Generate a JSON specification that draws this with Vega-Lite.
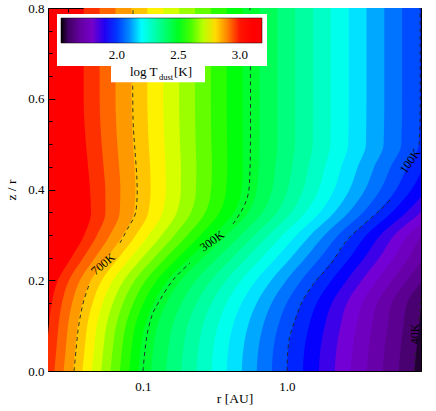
{
"$schema": "https://vega.github.io/schema/vega-lite/v6.json",
"width": 373, "height": 363,
"autosize": {"type": "none"},
"padding": {"left": 48, "top": 8, "right": 15, "bottom": 40},
"background": "white",
"config": {
 "view": {"stroke": null, "fill": "#ff0000"},
 "font": "Liberation Serif",
 "axis": {"grid": false, "domainColor": "black", "domainWidth": 1, "tickColor": "black", "tickWidth": 1, "labelColor": "black", "titleColor": "black", "labelFont": "Liberation Serif", "titleFont": "Liberation Serif", "labelFontSize": 13, "titleFontSize": 13.5, "titleFontWeight": "normal", "labelOverlap": false, "labelFlush": false}
},
"layer": [
{
 "data": {"values": [
{"t":2.975,"z":0,"log_r":-1.681},{"t":2.975,"z":0.05,"log_r":-1.666},{"t":2.975,"z":0.1,"log_r":-1.654},{"t":2.975,"z":0.15,"log_r":-1.633},{"t":2.975,"z":0.2,"log_r":-1.591},{"t":2.975,"z":0.25,"log_r":-1.497},{"t":2.975,"z":0.3,"log_r":-1.408},{"t":2.975,"z":0.35,"log_r":-1.361},{"t":2.975,"z":0.4,"log_r":-1.368},{"t":2.975,"z":0.45,"log_r":-1.381},{"t":2.975,"z":0.5,"log_r":-1.396},{"t":2.975,"z":0.6,"log_r":-1.412},{"t":2.975,"z":0.8,"log_r":-1.412},
{"t":2.925,"z":0,"log_r":-1.616},{"t":2.925,"z":0.05,"log_r":-1.601},{"t":2.925,"z":0.1,"log_r":-1.587},{"t":2.925,"z":0.15,"log_r":-1.563},{"t":2.925,"z":0.2,"log_r":-1.514},{"t":2.925,"z":0.25,"log_r":-1.414},{"t":2.925,"z":0.3,"log_r":-1.319},{"t":2.925,"z":0.35,"log_r":-1.261},{"t":2.925,"z":0.4,"log_r":-1.262},{"t":2.925,"z":0.45,"log_r":-1.274},{"t":2.925,"z":0.5,"log_r":-1.287},{"t":2.925,"z":0.6,"log_r":-1.301},{"t":2.925,"z":0.8,"log_r":-1.301},
{"t":2.875,"z":0,"log_r":-1.551},{"t":2.875,"z":0.05,"log_r":-1.536},{"t":2.875,"z":0.1,"log_r":-1.521},{"t":2.875,"z":0.15,"log_r":-1.492},{"t":2.875,"z":0.2,"log_r":-1.438},{"t":2.875,"z":0.25,"log_r":-1.332},{"t":2.875,"z":0.3,"log_r":-1.229},{"t":2.875,"z":0.35,"log_r":-1.162},{"t":2.875,"z":0.4,"log_r":-1.157},{"t":2.875,"z":0.45,"log_r":-1.166},{"t":2.875,"z":0.5,"log_r":-1.178},{"t":2.875,"z":0.6,"log_r":-1.191},{"t":2.875,"z":0.8,"log_r":-1.191},
{"t":2.825,"z":0,"log_r":-1.486},{"t":2.825,"z":0.05,"log_r":-1.470},{"t":2.825,"z":0.1,"log_r":-1.454},{"t":2.825,"z":0.15,"log_r":-1.421},{"t":2.825,"z":0.2,"log_r":-1.362},{"t":2.825,"z":0.25,"log_r":-1.250},{"t":2.825,"z":0.3,"log_r":-1.139},{"t":2.825,"z":0.35,"log_r":-1.063},{"t":2.825,"z":0.4,"log_r":-1.052},{"t":2.825,"z":0.45,"log_r":-1.059},{"t":2.825,"z":0.5,"log_r":-1.069},{"t":2.825,"z":0.6,"log_r":-1.080},{"t":2.825,"z":0.8,"log_r":-1.080},
{"t":2.775,"z":0,"log_r":-1.421},{"t":2.775,"z":0.05,"log_r":-1.405},{"t":2.775,"z":0.1,"log_r":-1.387},{"t":2.775,"z":0.15,"log_r":-1.350},{"t":2.775,"z":0.2,"log_r":-1.286},{"t":2.775,"z":0.25,"log_r":-1.168},{"t":2.775,"z":0.3,"log_r":-1.049},{"t":2.775,"z":0.35,"log_r":-0.963},{"t":2.775,"z":0.4,"log_r":-0.947},{"t":2.775,"z":0.45,"log_r":-0.951},{"t":2.775,"z":0.5,"log_r":-0.960},{"t":2.775,"z":0.6,"log_r":-0.970},{"t":2.775,"z":0.8,"log_r":-0.970},
{"t":2.725,"z":0,"log_r":-1.356},{"t":2.725,"z":0.05,"log_r":-1.340},{"t":2.725,"z":0.1,"log_r":-1.321},{"t":2.725,"z":0.15,"log_r":-1.280},{"t":2.725,"z":0.2,"log_r":-1.209},{"t":2.725,"z":0.25,"log_r":-1.085},{"t":2.725,"z":0.3,"log_r":-0.959},{"t":2.725,"z":0.35,"log_r":-0.864},{"t":2.725,"z":0.4,"log_r":-0.842},{"t":2.725,"z":0.45,"log_r":-0.844},{"t":2.725,"z":0.5,"log_r":-0.851},{"t":2.725,"z":0.6,"log_r":-0.860},{"t":2.725,"z":0.8,"log_r":-0.860},
{"t":2.675,"z":0,"log_r":-1.290},{"t":2.675,"z":0.05,"log_r":-1.275},{"t":2.675,"z":0.1,"log_r":-1.254},{"t":2.675,"z":0.15,"log_r":-1.209},{"t":2.675,"z":0.2,"log_r":-1.133},{"t":2.675,"z":0.25,"log_r":-1.003},{"t":2.675,"z":0.3,"log_r":-0.869},{"t":2.675,"z":0.35,"log_r":-0.765},{"t":2.675,"z":0.4,"log_r":-0.737},{"t":2.675,"z":0.45,"log_r":-0.736},{"t":2.675,"z":0.5,"log_r":-0.743},{"t":2.675,"z":0.6,"log_r":-0.749},{"t":2.675,"z":0.8,"log_r":-0.749},
{"t":2.625,"z":0,"log_r":-1.225},{"t":2.625,"z":0.05,"log_r":-1.210},{"t":2.625,"z":0.1,"log_r":-1.187},{"t":2.625,"z":0.15,"log_r":-1.138},{"t":2.625,"z":0.2,"log_r":-1.057},{"t":2.625,"z":0.25,"log_r":-0.921},{"t":2.625,"z":0.3,"log_r":-0.780},{"t":2.625,"z":0.35,"log_r":-0.666},{"t":2.625,"z":0.4,"log_r":-0.632},{"t":2.625,"z":0.45,"log_r":-0.629},{"t":2.625,"z":0.5,"log_r":-0.634},{"t":2.625,"z":0.6,"log_r":-0.639},{"t":2.625,"z":0.8,"log_r":-0.639},
{"t":2.575,"z":0,"log_r":-1.160},{"t":2.575,"z":0.05,"log_r":-1.145},{"t":2.575,"z":0.1,"log_r":-1.120},{"t":2.575,"z":0.15,"log_r":-1.067},{"t":2.575,"z":0.2,"log_r":-0.981},{"t":2.575,"z":0.25,"log_r":-0.839},{"t":2.575,"z":0.3,"log_r":-0.690},{"t":2.575,"z":0.35,"log_r":-0.566},{"t":2.575,"z":0.4,"log_r":-0.527},{"t":2.575,"z":0.45,"log_r":-0.521},{"t":2.575,"z":0.5,"log_r":-0.525},{"t":2.575,"z":0.6,"log_r":-0.529},{"t":2.575,"z":0.8,"log_r":-0.529},
{"t":2.525,"z":0,"log_r":-1.095},{"t":2.525,"z":0.05,"log_r":-1.080},{"t":2.525,"z":0.1,"log_r":-1.054},{"t":2.525,"z":0.15,"log_r":-0.996},{"t":2.525,"z":0.2,"log_r":-0.904},{"t":2.525,"z":0.25,"log_r":-0.756},{"t":2.525,"z":0.3,"log_r":-0.600},{"t":2.525,"z":0.35,"log_r":-0.467},{"t":2.525,"z":0.4,"log_r":-0.422},{"t":2.525,"z":0.45,"log_r":-0.414},{"t":2.525,"z":0.5,"log_r":-0.416},{"t":2.525,"z":0.6,"log_r":-0.418},{"t":2.525,"z":0.8,"log_r":-0.418},
{"t":2.475,"z":0,"log_r":-1.030},{"t":2.475,"z":0.05,"log_r":-1.015},{"t":2.475,"z":0.1,"log_r":-0.987},{"t":2.475,"z":0.15,"log_r":-0.926},{"t":2.475,"z":0.2,"log_r":-0.828},{"t":2.475,"z":0.25,"log_r":-0.674},{"t":2.475,"z":0.3,"log_r":-0.510},{"t":2.475,"z":0.35,"log_r":-0.368},{"t":2.475,"z":0.4,"log_r":-0.316},{"t":2.475,"z":0.45,"log_r":-0.306},{"t":2.475,"z":0.5,"log_r":-0.307},{"t":2.475,"z":0.6,"log_r":-0.308},{"t":2.475,"z":0.8,"log_r":-0.308},
{"t":2.425,"z":0,"log_r":-0.943},{"t":2.425,"z":0.05,"log_r":-0.928},{"t":2.425,"z":0.1,"log_r":-0.900},{"t":2.425,"z":0.15,"log_r":-0.837},{"t":2.425,"z":0.2,"log_r":-0.737},{"t":2.425,"z":0.25,"log_r":-0.581},{"t":2.425,"z":0.3,"log_r":-0.417},{"t":2.425,"z":0.35,"log_r":-0.268},{"t":2.425,"z":0.4,"log_r":-0.210},{"t":2.425,"z":0.45,"log_r":-0.195},{"t":2.425,"z":0.5,"log_r":-0.191},{"t":2.425,"z":0.6,"log_r":-0.190},{"t":2.425,"z":0.8,"log_r":-0.190},
{"t":2.375,"z":0,"log_r":-0.839},{"t":2.375,"z":0.05,"log_r":-0.824},{"t":2.375,"z":0.1,"log_r":-0.795},{"t":2.375,"z":0.15,"log_r":-0.732},{"t":2.375,"z":0.2,"log_r":-0.632},{"t":2.375,"z":0.25,"log_r":-0.480},{"t":2.375,"z":0.3,"log_r":-0.320},{"t":2.375,"z":0.35,"log_r":-0.169},{"t":2.375,"z":0.4,"log_r":-0.103},{"t":2.375,"z":0.45,"log_r":-0.081},{"t":2.375,"z":0.5,"log_r":-0.067},{"t":2.375,"z":0.6,"log_r":-0.066},{"t":2.375,"z":0.8,"log_r":-0.066},
{"t":2.325,"z":0,"log_r":-0.734},{"t":2.325,"z":0.05,"log_r":-0.720},{"t":2.325,"z":0.1,"log_r":-0.690},{"t":2.325,"z":0.15,"log_r":-0.628},{"t":2.325,"z":0.2,"log_r":-0.527},{"t":2.325,"z":0.25,"log_r":-0.378},{"t":2.325,"z":0.3,"log_r":-0.223},{"t":2.325,"z":0.35,"log_r":-0.069},{"t":2.325,"z":0.4,"log_r":0.005},{"t":2.325,"z":0.45,"log_r":0.034},{"t":2.325,"z":0.5,"log_r":0.056},{"t":2.325,"z":0.6,"log_r":0.057},{"t":2.325,"z":0.8,"log_r":0.057},
{"t":2.275,"z":0,"log_r":-0.629},{"t":2.275,"z":0.05,"log_r":-0.615},{"t":2.275,"z":0.1,"log_r":-0.585},{"t":2.275,"z":0.15,"log_r":-0.524},{"t":2.275,"z":0.2,"log_r":-0.423},{"t":2.275,"z":0.25,"log_r":-0.276},{"t":2.275,"z":0.3,"log_r":-0.126},{"t":2.275,"z":0.35,"log_r":0.031},{"t":2.275,"z":0.4,"log_r":0.113},{"t":2.275,"z":0.45,"log_r":0.148},{"t":2.275,"z":0.5,"log_r":0.179},{"t":2.275,"z":0.6,"log_r":0.181},{"t":2.275,"z":0.8,"log_r":0.181},
{"t":2.225,"z":0,"log_r":-0.524},{"t":2.225,"z":0.05,"log_r":-0.511},{"t":2.225,"z":0.1,"log_r":-0.480},{"t":2.225,"z":0.15,"log_r":-0.419},{"t":2.225,"z":0.2,"log_r":-0.318},{"t":2.225,"z":0.25,"log_r":-0.174},{"t":2.225,"z":0.3,"log_r":-0.030},{"t":2.225,"z":0.35,"log_r":0.130},{"t":2.225,"z":0.4,"log_r":0.220},{"t":2.225,"z":0.45,"log_r":0.263},{"t":2.225,"z":0.5,"log_r":0.302},{"t":2.225,"z":0.6,"log_r":0.305},{"t":2.225,"z":0.8,"log_r":0.305},
{"t":2.175,"z":0,"log_r":-0.419},{"t":2.175,"z":0.05,"log_r":-0.407},{"t":2.175,"z":0.1,"log_r":-0.376},{"t":2.175,"z":0.15,"log_r":-0.315},{"t":2.175,"z":0.2,"log_r":-0.214},{"t":2.175,"z":0.25,"log_r":-0.073},{"t":2.175,"z":0.3,"log_r":0.067},{"t":2.175,"z":0.35,"log_r":0.230},{"t":2.175,"z":0.4,"log_r":0.328},{"t":2.175,"z":0.45,"log_r":0.377},{"t":2.175,"z":0.5,"log_r":0.425},{"t":2.175,"z":0.6,"log_r":0.429},{"t":2.175,"z":0.8,"log_r":0.429},
{"t":2.125,"z":0,"log_r":-0.314},{"t":2.125,"z":0.05,"log_r":-0.302},{"t":2.125,"z":0.1,"log_r":-0.271},{"t":2.125,"z":0.15,"log_r":-0.210},{"t":2.125,"z":0.2,"log_r":-0.109},{"t":2.125,"z":0.25,"log_r":0.029},{"t":2.125,"z":0.3,"log_r":0.164},{"t":2.125,"z":0.35,"log_r":0.330},{"t":2.125,"z":0.4,"log_r":0.435},{"t":2.125,"z":0.45,"log_r":0.491},{"t":2.125,"z":0.5,"log_r":0.548},{"t":2.125,"z":0.6,"log_r":0.552},{"t":2.125,"z":0.8,"log_r":0.552},
{"t":2.075,"z":0,"log_r":-0.210},{"t":2.075,"z":0.05,"log_r":-0.198},{"t":2.075,"z":0.1,"log_r":-0.166},{"t":2.075,"z":0.15,"log_r":-0.106},{"t":2.075,"z":0.2,"log_r":-0.004},{"t":2.075,"z":0.25,"log_r":0.131},{"t":2.075,"z":0.3,"log_r":0.261},{"t":2.075,"z":0.35,"log_r":0.429},{"t":2.075,"z":0.4,"log_r":0.543},{"t":2.075,"z":0.45,"log_r":0.606},{"t":2.075,"z":0.5,"log_r":0.671},{"t":2.075,"z":0.6,"log_r":0.676},{"t":2.075,"z":0.8,"log_r":0.676},
{"t":2.025,"z":0,"log_r":-0.105},{"t":2.025,"z":0.05,"log_r":-0.094},{"t":2.025,"z":0.1,"log_r":-0.061},{"t":2.025,"z":0.15,"log_r":-0.002},{"t":2.025,"z":0.2,"log_r":0.100},{"t":2.025,"z":0.25,"log_r":0.232},{"t":2.025,"z":0.3,"log_r":0.357},{"t":2.025,"z":0.35,"log_r":0.529},{"t":2.025,"z":0.4,"log_r":0.650},{"t":2.025,"z":0.45,"log_r":0.720},{"t":2.025,"z":0.5,"log_r":0.794},{"t":2.025,"z":0.6,"log_r":0.800},{"t":2.025,"z":0.8,"log_r":0.800},
{"t":1.975,"z":0,"log_r":0.000},{"t":1.975,"z":0.05,"log_r":0.010},{"t":1.975,"z":0.1,"log_r":0.044},{"t":1.975,"z":0.15,"log_r":0.103},{"t":1.975,"z":0.2,"log_r":0.205},{"t":1.975,"z":0.25,"log_r":0.334},{"t":1.975,"z":0.3,"log_r":0.454},{"t":1.975,"z":0.35,"log_r":0.629},{"t":1.975,"z":0.4,"log_r":0.758},{"t":1.975,"z":0.45,"log_r":0.835},{"t":1.975,"z":0.5,"log_r":0.917},{"t":1.975,"z":0.6,"log_r":0.924},{"t":1.975,"z":0.8,"log_r":0.924},
{"t":1.925,"z":0,"log_r":0.111},{"t":1.925,"z":0.05,"log_r":0.122},{"t":1.925,"z":0.1,"log_r":0.153},{"t":1.925,"z":0.15,"log_r":0.207},{"t":1.925,"z":0.2,"log_r":0.310},{"t":1.925,"z":0.25,"log_r":0.437},{"t":1.925,"z":0.3,"log_r":0.552},{"t":1.925,"z":0.35,"log_r":0.729},{"t":1.925,"z":0.4,"log_r":0.865},{"t":1.925,"z":0.45,"log_r":0.949},{"t":1.925,"z":0.5,"log_r":1.040},{"t":1.925,"z":0.6,"log_r":1.047},{"t":1.925,"z":0.8,"log_r":1.047},
{"t":1.875,"z":0,"log_r":0.222},{"t":1.875,"z":0.05,"log_r":0.233},{"t":1.875,"z":0.1,"log_r":0.262},{"t":1.875,"z":0.15,"log_r":0.312},{"t":1.875,"z":0.2,"log_r":0.415},{"t":1.875,"z":0.25,"log_r":0.539},{"t":1.875,"z":0.3,"log_r":0.649},{"t":1.875,"z":0.35,"log_r":0.829},{"t":1.875,"z":0.4,"log_r":0.973},{"t":1.875,"z":0.45,"log_r":1.064},{"t":1.875,"z":0.5,"log_r":1.163},{"t":1.875,"z":0.6,"log_r":1.170},{"t":1.875,"z":0.8,"log_r":1.170},
{"t":1.825,"z":0,"log_r":0.332},{"t":1.825,"z":0.05,"log_r":0.344},{"t":1.825,"z":0.1,"log_r":0.372},{"t":1.825,"z":0.15,"log_r":0.416},{"t":1.825,"z":0.2,"log_r":0.520},{"t":1.825,"z":0.25,"log_r":0.642},{"t":1.825,"z":0.3,"log_r":0.747},{"t":1.825,"z":0.35,"log_r":0.929},{"t":1.825,"z":0.4,"log_r":1.080},{"t":1.825,"z":0.45,"log_r":1.178},{"t":1.825,"z":0.5,"log_r":1.286},{"t":1.825,"z":0.6,"log_r":1.294},{"t":1.825,"z":0.8,"log_r":1.294},
{"t":1.775,"z":0,"log_r":0.443},{"t":1.775,"z":0.05,"log_r":0.455},{"t":1.775,"z":0.1,"log_r":0.481},{"t":1.775,"z":0.15,"log_r":0.521},{"t":1.775,"z":0.2,"log_r":0.625},{"t":1.775,"z":0.25,"log_r":0.744},{"t":1.775,"z":0.3,"log_r":0.844},{"t":1.775,"z":0.35,"log_r":1.029},{"t":1.775,"z":0.4,"log_r":1.188},{"t":1.775,"z":0.45,"log_r":1.293},{"t":1.775,"z":0.5,"log_r":1.409},{"t":1.775,"z":0.6,"log_r":1.418},{"t":1.775,"z":0.8,"log_r":1.418},
{"t":1.725,"z":0,"log_r":0.554},{"t":1.725,"z":0.05,"log_r":0.567},{"t":1.725,"z":0.1,"log_r":0.590},{"t":1.725,"z":0.15,"log_r":0.625},{"t":1.725,"z":0.2,"log_r":0.730},{"t":1.725,"z":0.25,"log_r":0.847},{"t":1.725,"z":0.3,"log_r":0.942},{"t":1.725,"z":0.35,"log_r":1.129},{"t":1.725,"z":0.4,"log_r":1.295},{"t":1.725,"z":0.45,"log_r":1.407},{"t":1.725,"z":0.5,"log_r":1.532},{"t":1.725,"z":0.6,"log_r":1.542},{"t":1.725,"z":0.8,"log_r":1.542},
{"t":1.675,"z":0,"log_r":0.665},{"t":1.675,"z":0.05,"log_r":0.678},{"t":1.675,"z":0.1,"log_r":0.699},{"t":1.675,"z":0.15,"log_r":0.729},{"t":1.675,"z":0.2,"log_r":0.835},{"t":1.675,"z":0.25,"log_r":0.949},{"t":1.675,"z":0.3,"log_r":1.039},{"t":1.675,"z":0.35,"log_r":1.229},{"t":1.675,"z":0.4,"log_r":1.403},{"t":1.675,"z":0.45,"log_r":1.522},{"t":1.675,"z":0.5,"log_r":1.655},{"t":1.675,"z":0.6,"log_r":1.666},{"t":1.675,"z":0.8,"log_r":1.666},
{"t":1.625,"z":0,"log_r":0.776},{"t":1.625,"z":0.05,"log_r":0.789},{"t":1.625,"z":0.1,"log_r":0.808},{"t":1.625,"z":0.15,"log_r":0.834},{"t":1.625,"z":0.2,"log_r":0.940},{"t":1.625,"z":0.25,"log_r":1.052},{"t":1.625,"z":0.3,"log_r":1.137},{"t":1.625,"z":0.35,"log_r":1.329},{"t":1.625,"z":0.4,"log_r":1.510},{"t":1.625,"z":0.45,"log_r":1.636},{"t":1.625,"z":0.5,"log_r":1.778},{"t":1.625,"z":0.6,"log_r":1.790},{"t":1.625,"z":0.8,"log_r":1.790},
{"t":1.575,"z":0,"log_r":0.886},{"t":1.575,"z":0.05,"log_r":0.900},{"t":1.575,"z":0.1,"log_r":0.918},{"t":1.575,"z":0.15,"log_r":0.938},{"t":1.575,"z":0.2,"log_r":1.045},{"t":1.575,"z":0.25,"log_r":1.154},{"t":1.575,"z":0.3,"log_r":1.234},{"t":1.575,"z":0.35,"log_r":1.429},{"t":1.575,"z":0.4,"log_r":1.618},{"t":1.575,"z":0.45,"log_r":1.751},{"t":1.575,"z":0.5,"log_r":1.901},{"t":1.575,"z":0.6,"log_r":1.913},{"t":1.575,"z":0.8,"log_r":1.913}
 ]},
 "mark": {"type": "area", "orient": "horizontal", "interpolate": "monotone", "clip": true},
 "encoding": {
  "x": {"field": "log_r", "type": "quantitative", "stack": null,
   "scale": {"type": "linear", "domain": [-1.6597, 0.9306], "nice": false, "zero": false},
   "axis": {"orient": "bottom", "title": "r [AU]",
    "values": [-1.5229,-1.3979,-1.301,-1.2218,-1.1549,-1.0969,-1.0458,-1,-0.699,-0.5229,-0.3979,-0.301,-0.2218,-0.1549,-0.0969,-0.0458,0,0.301,0.4771,0.6021,0.699,0.7782,0.8451,0.9031],
    "labelExpr": "datum.value == -1 ? '0.1' : (datum.value == 0 ? '1.0' : '')",
    "tickSize": {"condition": {"test": "datum.value == -1 || datum.value == 0", "value": -8}, "value": -4},
    "labelPadding": 17, "titlePadding": -6}},
  "x2": {"datum": 1.0},
  "y": {"field": "z", "type": "quantitative",
   "scale": {"domain": [0, 0.8], "nice": false, "zero": false},
   "axis": {"orient": "left", "title": "z / r",
    "values": [0,0.05,0.1,0.15,0.2,0.25,0.3,0.35,0.4,0.45,0.5,0.55,0.6,0.65,0.7,0.75,0.8],
    "labelExpr": "abs(datum.value*5 - round(datum.value*5)) < 0.001 ? format(datum.value, '.1f') : ''",
    "tickSize": {"condition": {"test": "abs(datum.value*5 - round(datum.value*5)) < 0.001", "value": -7}, "value": -4},
    "labelPadding": 11, "titlePadding": 9}},
  "color": {"field": "t", "type": "quantitative",
   "scale": {"type": "linear", "domain": [1.545, 1.6, 1.7, 1.82, 1.93, 2.09, 2.2, 2.54, 2.76, 2.89, 3.02, 3.18],
    "range": ["#000000", "#400060", "#6400a0", "#7800d2", "#0000ff", "#0080ff", "#00ffff", "#00ff00", "#ffff00", "#ff8c00", "#ff0000", "#ff0000"],
    "interpolate": "rgb", "clamp": true},
   "legend": {"orient": "none", "legendX": 9, "legendY": 6, "direction": "horizontal", "title": null,
    "gradientLength": 201, "gradientThickness": 25, "values": [2.0, 2.5, 3.0], "format": ".1f",
    "labelFont": "Liberation Serif", "labelFontSize": 13, "labelColor": "black", "labelOffset": 6,
    "fillColor": "white", "padding": 4, "gradientStrokeColor": "black", "gradientStrokeWidth": 0.5, "labelFlush": false, "labelOverlap": false}}
 }
},
{
 "data": {"values": [
{"seg":"a7","log_r":-1.479,"z":0},{"seg":"a7","log_r":-1.465,"z":0.0463},{"seg":"a7","log_r":-1.451,"z":0.0904},{"seg":"a7","log_r":-1.431,"z":0.1278},{"seg":"a7","log_r":-1.41,"z":0.1565},{"seg":"a7","log_r":-1.375,"z":0.1895},
{"seg":"b7","log_r":-1.16,"z":0.2821},{"seg":"b7","log_r":-1.104,"z":0.3152},{"seg":"b7","log_r":-1.056,"z":0.3438},{"seg":"b7","log_r":-1.042,"z":0.3769},{"seg":"b7","log_r":-1.042,"z":0.4209},{"seg":"b7","log_r":-1.056,"z":0.4871},{"seg":"b7","log_r":-1.069,"z":0.5532},{"seg":"b7","log_r":-1.069,"z":0.8},
{"seg":"a3","log_r":-1.0,"z":0},{"seg":"a3","log_r":-0.986,"z":0.0463},{"seg":"a3","log_r":-0.965,"z":0.0904},{"seg":"a3","log_r":-0.931,"z":0.1278},{"seg":"a3","log_r":-0.882,"z":0.1565},{"seg":"a3","log_r":-0.792,"z":0.2006},{"seg":"a3","log_r":-0.674,"z":0.238},
{"seg":"b3","log_r":-0.375,"z":0.324},{"seg":"b3","log_r":-0.3125,"z":0.3548},{"seg":"b3","log_r":-0.271,"z":0.3879},{"seg":"b3","log_r":-0.257,"z":0.443},{"seg":"b3","log_r":-0.257,"z":0.8},
{"seg":"a1","log_r":0,"z":0},{"seg":"a1","log_r":0.014,"z":0.0683},{"seg":"a1","log_r":0.056,"z":0.1124},{"seg":"a1","log_r":0.111,"z":0.1565},{"seg":"a1","log_r":0.194,"z":0.1961},{"seg":"a1","log_r":0.299,"z":0.2336},{"seg":"a1","log_r":0.417,"z":0.2887},{"seg":"a1","log_r":0.528,"z":0.3218},{"seg":"a1","log_r":0.646,"z":0.3548},{"seg":"a1","log_r":0.729,"z":0.3813},
{"seg":"b1","log_r":0.917,"z":0.4981},{"seg":"b1","log_r":0.924,"z":0.5532},{"seg":"b1","log_r":0.924,"z":0.8},
{"seg":"a4","log_r":0.882,"z":0},{"seg":"a4","log_r":0.889,"z":0.0287},{"seg":"a4","log_r":0.896,"z":0.0507},
{"seg":"b4","log_r":0.917,"z":0.1124},{"seg":"b4","log_r":0.931,"z":0.1675}
 ]},
 "mark": {"type": "line", "color": "#222222", "strokeWidth": 0.9, "strokeDash": [4, 3.5], "clip": true, "interpolate": "catmull-rom"},
 "encoding": {
  "x": {"field": "log_r", "type": "quantitative",
   "axis": {"orient": "top", "title": null, "labels": false,
    "values": [-1.5229,-1.3979,-1.301,-1.2218,-1.1549,-1.0969,-1.0458,-1,-0.699,-0.5229,-0.3979,-0.301,-0.2218,-0.1549,-0.0969,-0.0458,0,0.301,0.4771,0.6021,0.699,0.7782,0.8451,0.9031],
    "tickSize": {"condition": {"test": "datum.value == -1 || datum.value == 0", "value": -8}, "value": -4}}},
  "y": {"field": "z", "type": "quantitative",
   "axis": {"orient": "right", "title": null, "labels": false,
    "values": [0,0.05,0.1,0.15,0.2,0.25,0.3,0.35,0.4,0.45,0.5,0.55,0.6,0.65,0.7,0.75,0.8],
    "tickSize": {"condition": {"test": "abs(datum.value*5 - round(datum.value*5)) < 0.001", "value": -7}, "value": -4}}},
  "detail": {"field": "seg", "type": "nominal"},
  "order": {"field": "z", "type": "quantitative"}
 }
},
{
 "data": {"values": [{"log_r": -1.2778, "z": 0.2358, "label": "700K"}]},
 "mark": {"type": "text", "angle": 320, "font": "Liberation Serif", "fontSize": 12, "fill": "black"},
 "encoding": {"x": {"field": "log_r", "type": "quantitative", "axis": null}, "y": {"field": "z", "type": "quantitative", "axis": null}, "text": {"field": "label"}}
},
{
 "data": {"values": [{"log_r": -0.5208, "z": 0.2865, "label": "300K"}]},
 "mark": {"type": "text", "angle": 324, "font": "Liberation Serif", "fontSize": 12, "fill": "black"},
 "encoding": {"x": {"field": "log_r", "type": "quantitative", "axis": null}, "y": {"field": "z", "type": "quantitative", "axis": null}, "text": {"field": "label"}}
},
{
 "data": {"values": [{"log_r": 0.8542, "z": 0.4628, "label": "100K"}]},
 "mark": {"type": "text", "angle": 305, "font": "Liberation Serif", "fontSize": 12, "fill": "black"},
 "encoding": {"x": {"field": "log_r", "type": "quantitative", "axis": null}, "y": {"field": "z", "type": "quantitative", "axis": null}, "text": {"field": "label"}}
},
{
 "data": {"values": [{"log_r": 0.889, "z": 0.0815, "label": "40K"}]},
 "mark": {"type": "text", "angle": 270, "font": "Liberation Serif", "fontSize": 12, "fill": "black"},
 "encoding": {"x": {"field": "log_r", "type": "quantitative", "axis": null}, "y": {"field": "z", "type": "quantitative", "axis": null}, "text": {"field": "label"}}
},
{
 "data": {"values": [{"r0": -1.2222, "r1": -0.5694, "z0": 0.6363, "z1": 0.69}]},
 "mark": {"type": "rect", "fill": "white"},
 "encoding": {"x": {"field": "r0", "type": "quantitative", "axis": null}, "x2": {"field": "r1"}, "y": {"field": "z0", "type": "quantitative", "axis": null}, "y2": {"field": "z1"}}
},
{
 "data": {"values": [{"log_r": -1.0903, "z": 0.6508, "label": "log T"}]},
 "mark": {"type": "text", "align": "left", "baseline": "alphabetic", "font": "Liberation Serif", "fontSize": 13, "fill": "black"},
 "encoding": {"x": {"field": "log_r", "type": "quantitative", "axis": null}, "y": {"field": "z", "type": "quantitative", "axis": null}, "text": {"field": "label"}}
},
{
 "data": {"values": [{"log_r": -0.8889, "z": 0.6413, "label": "dust"}]},
 "mark": {"type": "text", "align": "left", "baseline": "alphabetic", "font": "Liberation Serif", "fontSize": 8.5, "fill": "black"},
 "encoding": {"x": {"field": "log_r", "type": "quantitative", "axis": null}, "y": {"field": "z", "type": "quantitative", "axis": null}, "text": {"field": "label"}}
},
{
 "data": {"values": [{"log_r": -0.7847, "z": 0.6508, "label": "[K]"}]},
 "mark": {"type": "text", "align": "left", "baseline": "alphabetic", "font": "Liberation Serif", "fontSize": 13, "fill": "black"},
 "encoding": {"x": {"field": "log_r", "type": "quantitative", "axis": null}, "y": {"field": "z", "type": "quantitative", "axis": null}, "text": {"field": "label"}}
}
]
}
